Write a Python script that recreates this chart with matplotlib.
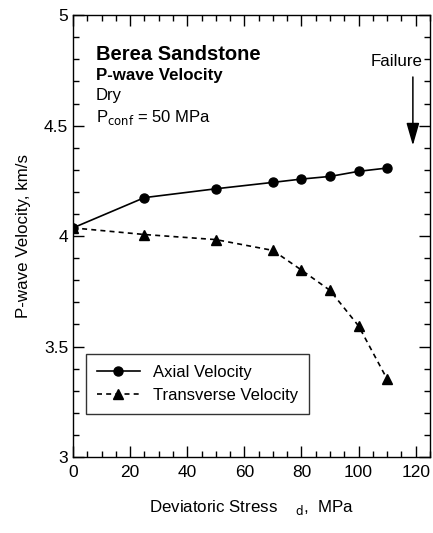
import matplotlib
matplotlib.use('Agg')
import matplotlib.pyplot as plt
from matplotlib.ticker import MultipleLocator

plt.rcParams['font.family'] = ['Liberation Sans', 'DejaVu Sans']

# Deviatoric stress, MPa
stress = [0, 25, 50, 70, 80, 90, 100, 110]
# P-wave velocities, km/s
axial = [4.037, 4.174, 4.214, 4.243, 4.258, 4.27, 4.293, 4.308]
transverse = [4.037, 4.007, 3.984, 3.935, 3.846, 3.754, 3.593, 3.352]

fig = plt.figure(figsize=(4.33, 5.33), dpi=100)
ax = fig.add_axes([0.1686, 0.1426, 0.8245, 0.829])

ax.plot(stress, axial, '-', color='black', lw=1.2, marker='o', ms=6.5,
        label='Axial Velocity')
ax.plot(stress, transverse, '--', color='black', lw=1.2, marker='^', ms=6.5,
        dashes=(3, 2.5), label='Transverse Velocity')

ax.set_xlim(0, 125)
ax.set_ylim(3, 5)
ax.set_xticks([0, 20, 40, 60, 80, 100, 120])
ax.xaxis.set_minor_locator(MultipleLocator(5))
ax.yaxis.set_minor_locator(MultipleLocator(0.1))
ax.set_yticks([3, 3.5, 4, 4.5, 5])
ax.set_yticklabels(['3', '3.5', '4', '4.5', '5'])
ax.tick_params(which='both', direction='in', top=True, right=True, labelsize=12.5)
ax.tick_params(which='major', length=8, width=1)
ax.tick_params(which='minor', length=4, width=1)
ax.tick_params(axis='x', pad=6)
for s in ax.spines.values():
    s.set_linewidth(1)

ax.set_xlabel('Deviatoric Stress    $_{\\rm d}$,  MPa', fontsize=12.2, labelpad=13)
ax.set_ylabel('P-wave Velocity, km/s', fontsize=12.2, labelpad=9)

ax.text(8, 4.82, 'Berea Sandstone', fontsize=14.5, fontweight='bold', va='center')
ax.text(8, 4.725, 'P-wave Velocity', fontsize=12.2, fontweight='bold', va='center')
ax.text(8, 4.635, 'Dry', fontsize=12, va='center')
ax.text(8, 4.535, 'P$_{\\rm conf}$ = 50 MPa', fontsize=12, va='center')

ax.text(122.5, 4.79, 'Failure', fontsize=12.2, ha='right', va='center')
ax.annotate('', xy=(119, 4.41), xytext=(119, 4.72),
            arrowprops=dict(arrowstyle='-|>,head_length=1.15,head_width=0.33',
                            color='black', lw=1.1, mutation_scale=12,
                            shrinkA=0, shrinkB=0))

leg = ax.legend(loc='lower left', bbox_to_anchor=(0.036, 0.097),
                borderaxespad=0, fontsize=12, frameon=True, fancybox=False,
                edgecolor='black', handlelength=2.6, borderpad=0.65,
                labelspacing=0.5)
leg.get_frame().set_linewidth(1)

fig.savefig('out.png', dpi=100)
plt.close(fig)
